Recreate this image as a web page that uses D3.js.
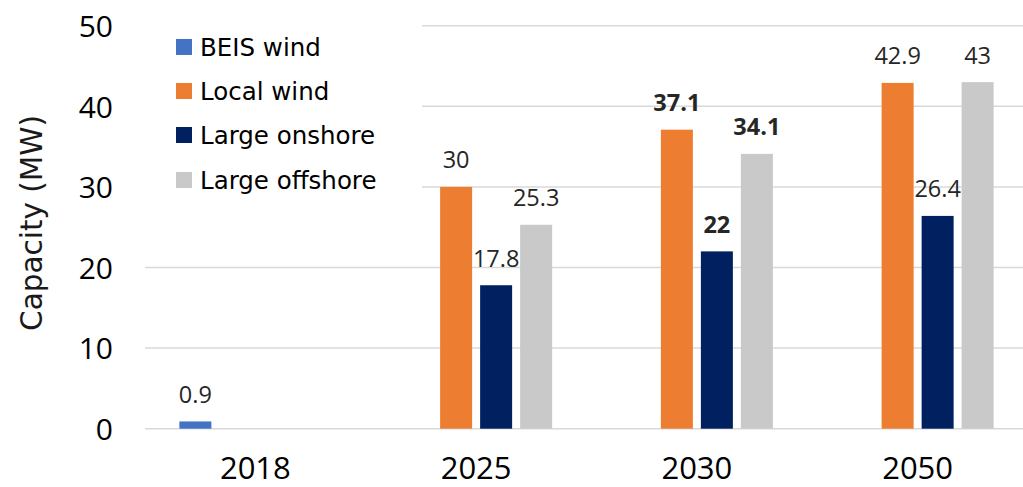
<!DOCTYPE html>
<html>
<head>
<meta charset="utf-8">
<script src="https://cdn.jsdelivr.net/npm/d3@7/dist/d3.min.js"></script>
<style>
  html, body { margin: 0; padding: 0; background: #fff; }
  svg { display: block; }
</style>
</head>
<body>
<svg id="chart" width="1023" height="487"></svg>
<script>
// Wind capacity by year and source
const years = ["2018", "2025", "2030", "2050"];
const seriesNames = ["BEIS wind", "Local wind", "Large onshore", "Large offshore"];
const beisWind      = [0.9, null, null, null];
const localWind     = [null, 30, 37.1, 42.9];
const largeOnshore  = [null, 17.8, 22, 26.4];
const largeOffshore = [null, 25.3, 34.1, 43];
const seriesColors = ["#4472C4", "#ED7D31", "#002060", "#C9C9C9"];
const boldLabelYears = ["2030"];
const yTicks = [0, 10, 20, 30, 40, 50];

const seriesValues = [beisWind, localWind, largeOnshore, largeOffshore];
const data = [];
years.forEach((yr, i) => {
  seriesNames.forEach((s, j) => {
    const v = seriesValues[j][i];
    if (v !== null) data.push({ year: yr, series: s, value: v, color: seriesColors[j] });
  });
});

const svg = d3.select("#chart");
const plot = { left: 145, right: 1028, top: 25.7, bottom: 428.7 };

const x0 = d3.scaleBand().domain(years).range([plot.left, plot.right]).padding(0);
const bw = x0.bandwidth();
const x1 = d3.scaleBand().domain(seriesNames)
  .range([bw / 2 - 80, bw / 2 + 80]).paddingInner(0.2).paddingOuter(0.1);
const y = d3.scaleLinear().domain([0, 50]).range([plot.bottom, plot.top]);

// Gridlines (including the zero baseline)
svg.append("g")
  .selectAll("line")
  .data(yTicks)
  .join("line")
  .attr("x1", plot.left).attr("x2", 1023)
  .attr("y1", d => y(d)).attr("y2", d => y(d))
  .attr("stroke", "#D9D9D9").attr("stroke-width", 1.5);

// Y axis tick labels
const yAxis = d3.axisLeft(y).tickValues(yTicks).tickSize(0).tickPadding(0);
const gy = svg.append("g").attr("transform", "translate(113,0)").call(yAxis);
gy.select(".domain").remove();
gy.selectAll("text")
  .attr("font-family", "'Open Sans', sans-serif")
  .attr("font-size", 30)
  .attr("fill", "#000")
  .attr("dy", "0.36em");

// X axis category labels
const xAxis = d3.axisBottom(x0).tickSize(0).tickPadding(0);
const gx = svg.append("g").attr("transform", "translate(0,478.5)").call(xAxis);
gx.select(".domain").remove();
gx.selectAll("text")
  .attr("font-family", "'Open Sans', sans-serif")
  .attr("font-size", 31)
  .attr("fill", "#000")
  .attr("dy", "0");

// Axis title
svg.append("text")
  .attr("transform", "translate(42,223) rotate(-90)")
  .attr("text-anchor", "middle")
  .attr("font-family", "'DejaVu Sans', sans-serif")
  .attr("font-size", 29.5)
  .attr("fill", "#1a1a1a")
  .text("Capacity (MW)");

// Legend (white box over the gridlines)
const legend = svg.append("g");
legend.append("rect")
  .attr("x", plot.left).attr("y", 15)
  .attr("width", 422 - plot.left).attr("height", 185)
  .attr("fill", "#fff");
const legendRows = [47, 91, 135, 180];
seriesNames.forEach((s, j) => {
  legend.append("rect")
    .attr("x", 176).attr("y", legendRows[j] - 8)
    .attr("width", 16).attr("height", 16)
    .attr("fill", seriesColors[j]);
  legend.append("text")
    .attr("x", 200).attr("y", legendRows[j])
    .attr("dy", "0.36em")
    .attr("font-family", "'DejaVu Sans', sans-serif")
    .attr("font-size", 24.5)
    .attr("fill", "#000")
    .text(s);
});

// Bars
const groups = svg.append("g")
  .selectAll("g")
  .data(data)
  .join("g")
  .attr("transform", d => `translate(${x0(d.year)},0)`);

groups.append("rect")
  .attr("x", d => x1(d.series))
  .attr("width", x1.bandwidth())
  .attr("y", d => y(d.value))
  .attr("height", d => y(0) - y(d.value))
  .attr("fill", d => d.color);

// Value labels
groups.append("text")
  .attr("x", d => x1(d.series) + x1.bandwidth() / 2)
  .attr("y", d => y(d.value) - 18.5)
  .attr("text-anchor", "middle")
  .attr("font-family", "'Open Sans', sans-serif")
  .attr("font-size", 23.5)
  .attr("font-weight", d => boldLabelYears.includes(d.year) ? "bold" : "normal")
  .attr("fill", "#262626")
  .text(d => d.value);
</script>
</body>
</html>
